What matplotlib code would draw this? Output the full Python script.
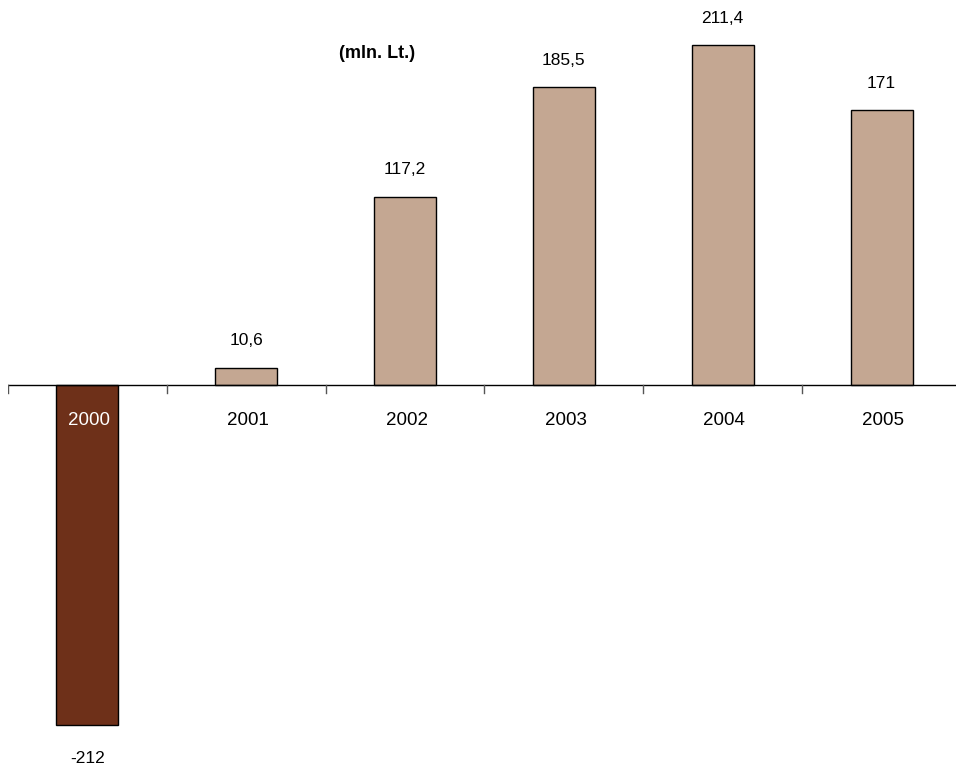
import matplotlib
matplotlib.use("Agg")
import matplotlib.pyplot as plt

years = ["2000", "2001", "2002", "2003", "2004", "2005"]
values = [-212, 10.6, 117.2, 185.5, 211.4, 171]
labels = ["-212", "10,6", "117,2", "185,5", "211,4", "171"]
title = "(mln. Lt.)"

neg_color = "#6E3019"
pos_color = "#C4A792"

plt.rcParams['font.family'] = ['Liberation Sans', 'DejaVu Sans']

fig = plt.figure(figsize=(9.56, 7.66), dpi=100)
ax = fig.add_axes([8/956, 0, 953/956, 1])
scale = 1.606
ax.set_xlim(0, 6)
ax.set_ylim(-381/scale, 385/scale)
ax.axis('off')

xs = [i + 0.5 for i in range(len(years))]
colors = [neg_color if v < 0 else pos_color for v in values]
ax.bar(xs, values, width=0.39, color=colors, edgecolor='black', linewidth=1.0, zorder=2)

ax.axhline(0, color='black', linewidth=1.0, zorder=3)
for i in range(6):
    ax.plot([i, i], [0, -8/scale], color='#555555', linewidth=1.0, zorder=3)

narrow = ['Liberation Sans Narrow', 'Liberation Sans', 'DejaVu Sans']
for x, v, lab in zip(xs, values, labels):
    if v >= 0:
        ax.text(x, v + 27/scale, lab, ha='center', va='center', fontsize=12.5, family=narrow)
    else:
        ax.text(x, v - 33/scale, lab, ha='center', va='center', fontsize=12.5, family=narrow)

for x, v, y in zip(xs, values, years):
    ax.text(x + 0.01, -36/scale, y, ha='center', va='center', fontsize=13.5,
            color='white' if v < 0 else 'black')

fig.text(377/956, 1 - 53/766, title, ha='center', va='center', fontsize=13, fontweight='bold',
         family=narrow)

fig.savefig("out.png", dpi=100)
